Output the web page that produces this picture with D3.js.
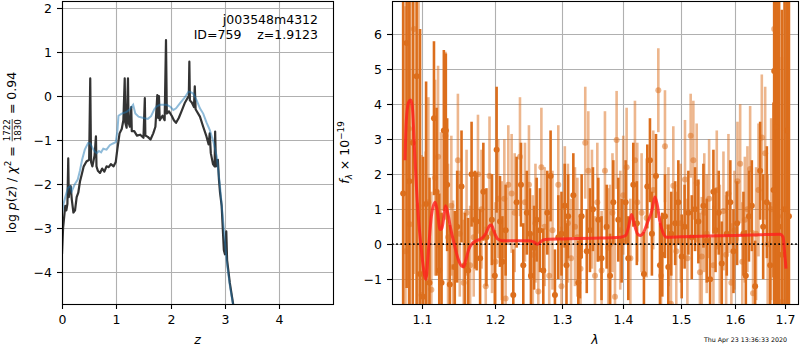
<!DOCTYPE html>
<html>
<head>
<meta charset="utf-8">
<script src="https://cdn.jsdelivr.net/npm/d3@7"></script>
<style>
  body { margin: 0; background: #fff; }
  svg { display: block; font-family: "DejaVu Sans", sans-serif; }
</style>
</head>
<body>
<svg id="chart" width="800" height="350"></svg>
<script>
// ---- data ----

// p(z) curve: [z, log p(z)]
const pzCurve = [
  [0.00,-3.6],[0.02,-3.0],[0.04,-2.75],[0.06,-2.5],[0.08,-2.6],[0.10,-2.45],[0.115,-1.42],[0.125,-2.3],
  [0.14,-2.1],[0.16,-2.05],[0.18,-2.35],[0.21,-2.65],[0.24,-2.6],[0.27,-2.3],[0.30,-2.2],[0.33,-1.95],
  [0.36,-1.8],[0.40,-1.6],[0.45,-1.49],[0.50,-1.45],[0.52,0.4],[0.535,-1.5],[0.56,-1.6],[0.60,-1.35],
  [0.625,-0.92],[0.635,-1.6],[0.66,-1.7],[0.70,-1.75],[0.74,-1.65],[0.78,-1.72],[0.82,-1.6],[0.86,-1.62],
  [0.90,-1.55],[0.95,-1.6],[0.99,-1.5],[1.02,-1.2],[1.06,-0.85],[1.10,-0.75],[1.13,-0.55],[1.155,0.4],
  [1.165,-0.6],[1.19,-0.72],[1.215,0.4],[1.225,-0.6],[1.25,-0.7],[1.275,-0.25],[1.285,-0.8],[1.33,-0.8],
  [1.38,-0.9],[1.44,-0.88],[1.50,-0.95],[1.525,-0.05],[1.535,-0.9],[1.58,-0.93],[1.63,-0.99],[1.68,-0.85],
  [1.72,-0.7],[1.755,0.02],[1.77,-0.5],[1.785,0.0],[1.80,-0.55],[1.85,-0.45],[1.89,-0.55],[1.915,1.27],
  [1.93,-0.4],[1.97,-0.35],[2.02,-0.45],[2.06,-0.55],[2.10,-0.61],[2.15,-0.5],[2.20,-0.35],[2.26,-0.16],
  [2.31,-0.05],[2.335,0.0],[2.345,0.78],[2.355,-0.1],[2.39,-0.15],[2.43,-0.25],[2.445,0.22],[2.46,-0.3],
  [2.54,-0.47],[2.60,-0.7],[2.66,-0.92],[2.70,-1.1],[2.72,-0.85],[2.74,-1.3],[2.78,-1.55],[2.81,-1.6],
  [2.82,-0.81],[2.835,-1.6],[2.87,-1.45],[2.89,-1.9],[2.91,-2.2],[2.94,-2.5],[2.98,-3.5],[3.00,-3.6],
  [3.025,-3.08],[3.04,-3.73],[3.09,-4.25],[3.16,-4.8]
];

// chi2 curve: [z, value]
const chiCurve = [
  [0.00,-2.66],[0.03,-2.45],[0.06,-2.3],[0.11,-2.09],[0.15,-2.05],[0.18,-2.17],[0.23,-2.02],[0.29,-1.9],
  [0.33,-1.7],[0.37,-1.45],[0.42,-1.22],[0.48,-1.07],[0.52,-1.08],[0.56,-1.18],[0.60,-1.26],[0.64,-1.3],
  [0.68,-1.25],[0.72,-1.28],[0.76,-1.2],[0.82,-1.22],[0.88,-1.12],[0.94,-1.08],[0.99,-1.05],[1.02,-0.8],
  [1.04,-0.45],[1.10,-0.4],[1.19,-0.36],[1.25,-0.3],[1.31,-0.2],[1.35,-0.4],[1.41,-0.47],[1.50,-0.5],
  [1.58,-0.52],[1.64,-0.46],[1.70,-0.3],[1.74,-0.24],[1.80,-0.2],[1.93,-0.2],[2.00,-0.25],[2.05,-0.32],
  [2.10,-0.28],[2.17,-0.17],[2.25,-0.05],[2.33,0.1],[2.38,0.08],[2.42,0.05],[2.48,-0.1],[2.54,-0.28],
  [2.60,-0.4],[2.66,-0.6],[2.72,-0.77],[2.79,-1.05],[2.85,-1.38],[2.91,-2.06],[2.97,-2.89],[3.03,-3.73],
  [3.09,-4.3],[3.15,-4.75]
];

// spectrum 1 (solid): [lambda, flux, err]
const specDark = [
  [1.0750,1.45,7],[1.0795,5.75,7],[1.0830,1.80,7],[1.0875,2.90,7],[1.0925,4.80,7],[1.0970,-0.85,7],
  [1.1010,-1.50,4.0],[1.1050,1.15,3.5],[1.1095,-1.10,3.0],[1.1155,3.60,2.2],[1.1190,1.50,2.4],[1.1226,-0.75,2.2],
  [1.1257,-1.10,2.0],[1.1288,3.25,2.3],[1.1315,3.25,2.2],[1.1333,1.70,1.9],[1.1369,-1.15,1.7],[1.1437,-0.65,1.6],
  [1.1470,0.50,1.6],[1.1530,1.65,1.6],[1.1576,-0.60,1.5],[1.1622,-0.75,1.5],[1.1670,2.00,1.5],[1.1717,0.70,1.4],
  [1.1741,0.65,1.4],[1.1790,-0.40,1.4],[1.1836,1.50,1.4],[1.1880,0.20,1.4],[1.1958,0.70,1.3],[1.2000,-0.90,1.3],
  [1.2026,2.70,1.8],[1.2075,0.65,1.3],[1.2110,-0.50,1.3],[1.2157,0.40,1.3],[1.2269,-1.45,1.3],[1.2318,1.20,1.3],
  [1.2383,1.70,1.2],[1.2417,-0.60,1.2],[1.2470,0.90,1.2],[1.2517,0.30,1.3],[1.2532,-0.90,1.2],[1.2580,-0.10,1.2],
  [1.2618,0.70,1.2],[1.2668,0.40,1.2],[1.2719,-0.75,1.2],[1.2780,0.90,1.2],[1.2831,1.95,1.3],[1.2898,-1.45,1.3],
  [1.2950,0.20,1.2],[1.3000,0.30,1.2],[1.3050,1.10,1.2],[1.3078,-0.60,1.2],[1.3104,0.80,1.2],[1.3186,1.40,1.2],
  [1.3265,-1.10,1.2],[1.3291,-0.35,1.2],[1.3318,0.80,1.2],[1.3400,-0.20,1.2],[1.3452,0.40,1.2],[1.3500,1.00,1.2],
  [1.3587,0.70,1.2],[1.3640,-0.40,1.2],[1.3724,0.50,1.2],[1.3780,-0.90,1.2],[1.3834,1.20,1.2],[1.3917,0.70,1.2],
  [1.3973,0.10,1.2],[1.4040,1.20,1.2],[1.4085,-0.40,1.2],[1.4170,1.70,1.2],[1.4230,0.60,1.2],[1.4352,-0.85,1.2],
  [1.4410,1.65,1.2],[1.4456,2.40,1.2],[1.4490,0.30,1.2],[1.4561,1.95,1.2],[1.4631,-0.60,1.2],[1.4672,-0.30,1.2],
  [1.4720,0.80,1.2],[1.4778,-0.65,1.2],[1.4830,0.30,1.2],[1.4900,0.60,1.2],[1.4957,1.20,1.2],[1.5017,-0.35,1.2],
  [1.5070,0.50,1.2],[1.5138,0.90,1.2],[1.5200,0.20,1.2],[1.5260,1.00,1.2],[1.5321,0.65,1.2],[1.5414,1.10,1.2],
  [1.5476,0.10,1.2],[1.5538,-1.00,1.2],[1.5600,1.50,1.2],[1.5640,0.40,1.2],[1.5700,0.90,1.2],[1.5757,-0.55,1.2],
  [1.5852,0.30,1.2],[1.5920,1.20,1.2],[1.5980,-0.20,1.2],[1.6050,0.60,1.2],[1.6173,0.30,1.2],[1.6219,-0.90,1.3],
  [1.6280,0.80,1.3],[1.6336,1.10,1.3],[1.6401,-1.20,1.3],[1.6500,2.10,1.4],[1.6560,0.50,1.5],[1.6633,1.20,1.6],
  [1.6700,-0.60,1.8],[1.6767,1.55,2.5],[1.6781,4.95,7],[1.6821,3.35,7],[1.6835,1.20,7],[1.6880,0.50,7],
  [1.6936,-0.30,7],[1.6990,1.00,7],[1.7039,3.25,7],[1.7080,0.80,7]
];

// spectrum 2 (faint): [lambda, flux, err]
const specLight = [
  [1.0780,-0.20,7],[1.0825,3.30,7],[1.0835,0.57,7],[1.0890,6.15,7],[1.0950,1.10,7],[1.0990,-1.45,4.0],
  [1.1044,-0.85,3.5],[1.1080,1.20,3.0],[1.1120,-1.30,2.8],[1.1170,1.90,2.8],[1.1210,2.50,2.6],[1.1250,0.80,2.4],
  [1.1310,3.10,2.4],[1.1345,0.20,2.1],[1.1390,1.10,2.0],[1.1414,-0.65,1.9],[1.1480,2.40,1.9],[1.1506,0.30,1.8],
  [1.1560,-1.10,1.8],[1.1600,0.90,1.8],[1.1650,-0.60,1.7],[1.1700,0.20,1.7],[1.1760,2.00,1.7],[1.1810,1.00,1.7],
  [1.1870,-1.20,1.7],[1.1924,1.95,1.7],[1.1960,0.30,1.7],[1.2010,-0.50,1.7],[1.2050,1.30,1.7],[1.2100,0.10,1.7],
  [1.2138,1.30,1.7],[1.2157,-1.55,1.7],[1.2196,1.70,1.7],[1.2245,1.45,1.7],[1.2290,0.90,1.7],[1.2368,2.50,1.7],
  [1.2442,1.20,1.7],[1.2502,1.70,1.7],[1.2560,-0.30,1.7],[1.2600,0.60,1.7],[1.2643,-1.35,1.7],[1.2690,2.20,1.7],
  [1.2740,0.50,1.7],[1.2810,-0.90,1.7],[1.2860,0.40,1.7],[1.2950,1.70,1.7],[1.3000,-1.20,1.7],[1.3052,1.10,1.7],
  [1.3100,0.60,1.7],[1.3150,-0.40,1.7],[1.3212,0.50,1.7],[1.3250,0.20,1.7],[1.3300,-0.70,1.7],[1.3376,2.90,1.6],
  [1.3425,2.10,1.7],[1.3484,1.00,1.7],[1.3533,-0.90,1.7],[1.3571,1.20,1.7],[1.3641,-0.75,1.7],[1.3696,2.10,1.7],
  [1.3750,-0.10,1.7],[1.3779,0.00,1.7],[1.3820,0.90,1.7],[1.3862,-1.50,1.7],[1.3889,2.98,1.4],[1.3950,0.40,1.7],
  [1.4000,1.40,1.7],[1.4057,2.20,1.7],[1.4120,-0.40,1.7],[1.4198,2.40,1.7],[1.4238,1.20,1.7],[1.4312,0.90,1.7],
  [1.4398,0.75,1.7],[1.4514,1.55,1.7],[1.4602,4.40,1.2],[1.4650,-0.90,1.7],[1.4719,2.80,1.6],[1.4780,0.50,1.7],
  [1.4825,-1.70,1.7],[1.4867,1.67,1.7],[1.4920,-0.20,1.7],[1.5000,0.60,1.7],[1.5077,1.85,1.7],[1.5120,-0.40,1.7],
  [1.5180,3.10,1.2],[1.5229,2.40,1.7],[1.5290,1.75,1.7],[1.5350,-0.80,1.7],[1.5383,-0.35,1.7],[1.5430,0.90,1.7],
  [1.5476,0.30,1.7],[1.5520,1.30,1.7],[1.5600,-0.60,1.7],[1.5663,1.55,1.7],[1.5720,0.00,1.7],[1.5789,0.95,1.7],
  [1.5840,-0.30,1.7],[1.5884,1.45,1.7],[1.5940,-1.10,1.7],[1.6000,0.40,1.7],[1.6057,1.80,1.7],[1.6109,2.30,1.7],
  [1.6150,-0.50,1.7],[1.6200,0.70,1.8],[1.6250,1.00,1.8],[1.6303,2.15,1.8],[1.6360,-1.40,1.8],[1.6420,0.30,1.9],
  [1.6467,1.55,1.9],[1.6533,3.05,1.8],[1.6600,2.60,1.9],[1.6650,0.00,2.0],[1.6720,1.00,2.6],[1.6781,6.15,7],
  [1.6860,0.80,7],[1.6936,-1.65,7]
];

// best-fit model: [lambda, flux]
const modelCurve = [
  [1.0774,2.4],[1.0790,3.5],[1.0820,4.05],[1.0848,4.12],[1.0870,3.9],[1.0900,2.6],[1.0940,1.0],[1.0980,0.0],
  [1.1010,-0.6],[1.1047,-1.0],[1.1080,-0.2],[1.1120,0.8],[1.1170,1.2],[1.1200,0.95],[1.1236,0.42],[1.1260,0.45],
  [1.1290,0.8],[1.1310,1.1],[1.1340,0.9],[1.1380,0.45],[1.1430,0.0],[1.1480,-0.4],[1.1530,-0.62],[1.1560,-0.65],
  [1.1590,-0.45],[1.1630,-0.15],[1.1680,0.02],[1.1740,0.1],[1.1800,0.15],[1.1870,0.3],[1.1920,0.52],[1.1950,0.55],
  [1.1990,0.35],[1.2040,0.15],[1.2100,0.1],[1.2300,0.1],[1.2500,0.1],[1.2580,0.06],[1.2630,0.0],[1.2680,0.07],
  [1.2720,0.12],[1.2800,0.14],[1.3000,0.15],[1.3500,0.17],[1.3950,0.2],[1.4040,0.25],[1.4090,0.5],[1.4140,0.85],
  [1.4190,0.55],[1.4240,0.3],[1.4290,0.25],[1.4350,0.35],[1.4420,0.65],[1.4480,0.9],[1.4520,1.2],[1.4543,1.35],
  [1.4580,1.15],[1.4630,0.65],[1.4680,0.35],[1.4750,0.2],[1.5000,0.21],[1.5500,0.23],[1.6000,0.25],[1.6500,0.27],
  [1.6900,0.28],[1.6960,0.2],[1.6990,-0.2],[1.7020,-0.7]
];

const zTicks = [0, 1, 2, 3, 4];
const logpTicks = [-4, -3, -2, -1, 0, 1, 2];
const waveTicks = [1.1, 1.2, 1.3, 1.4, 1.5, 1.6, 1.7];
const fluxTicks = [-1, 0, 1, 2, 3, 4, 5, 6];

// ---- layout ----
const FONT = 12.5;
const ORANGE = "#dc6e1c";
const LEFT = { x0: 62, x1: 333, y0: 1, y1: 304 };
const RIGHT = { x0: 392, x1: 798, y0: 1, y1: 304 };

const svg = d3.select("#chart");

const xL = d3.scaleLinear().domain([0, 4.99]).range([LEFT.x0, LEFT.x1]);
const yL = d3.scaleLinear().domain([-4.73, 2.16]).range([LEFT.y1, LEFT.y0]);
const xR = d3.scaleLog().domain([1.0607, 1.7267]).range([RIGHT.x0, RIGHT.x1]);
const yR = d3.scaleLinear().domain([-1.71, 6.95]).range([RIGHT.y1, RIGHT.y0]);

const defs = svg.append("defs");
[["clipL", LEFT], ["clipR", RIGHT]].forEach(([id, b]) => {
  defs.append("clipPath").attr("id", id)
    .append("rect")
    .attr("x", b.x0).attr("y", b.y0)
    .attr("width", b.x1 - b.x0).attr("height", b.y1 - b.y0);
});

const snap = (v) => Math.round(v) + 0.5;

function addGrid(box, x, y, xTicks, yTicks) {
  const g = svg.append("g").attr("stroke", "#b0b0b0").attr("stroke-width", 1.1);
  g.selectAll("line.gx").data(xTicks).join("line").attr("class", "gx")
    .attr("x1", (d) => snap(x(d))).attr("x2", (d) => snap(x(d)))
    .attr("y1", box.y0).attr("y2", box.y1);
  g.selectAll("line.gy").data(yTicks).join("line").attr("class", "gy")
    .attr("x1", box.x0).attr("x2", box.x1)
    .attr("y1", (d) => snap(y(d))).attr("y2", (d) => snap(y(d)));
}

function addAxes(box, x, y, xTicks, yTicks, xFmt, yFmt) {
  const style = (g) => {
    g.attr("font-size", FONT).attr("font-family", null);
    g.select(".domain").remove();
    g.selectAll(".tick line").attr("stroke-width", 1.1);
  };
  svg.append("g")
    .attr("transform", `translate(0,${box.y1})`)
    .call(d3.axisBottom(x).tickValues(xTicks).tickFormat(xFmt)
      .tickSize(5).tickPadding(6).tickSizeOuter(0).offset(0))
    .call(style)
    .selectAll(".tick").attr("transform", (d) => `translate(${snap(x(d))},0)`);
  svg.append("g")
    .attr("transform", `translate(${box.x0},0)`)
    .call(d3.axisLeft(y).tickValues(yTicks).tickFormat(yFmt)
      .tickSize(5).tickPadding(5).tickSizeOuter(0).offset(0))
    .call(style)
    .selectAll(".tick").attr("transform", (d) => `translate(0,${snap(y(d))})`);
  svg.append("rect")
    .attr("x", box.x0 + 0.5).attr("y", box.y0 + 0.5)
    .attr("width", box.x1 - box.x0).attr("height", box.y1 - box.y0)
    .attr("fill", "none").attr("stroke", "#000").attr("stroke-width", 1.1);
}

// rotated label built from pieces (italic, sub/superscript, stacked fraction)
function mathLabel(x, y, parts) {
  const outer = svg.append("g").attr("transform", `translate(${x},${y}) rotate(-90)`);
  const g = outer.append("g").attr("font-size", FONT);
  let cx = 0;
  parts.forEach((p) => {
    if (p.frac) {
      const fs = FONT * 0.7;
      const num = g.append("text").attr("font-size", fs).attr("y", -6).text(p.frac[0]);
      const den = g.append("text").attr("font-size", fs).attr("y", 5).text(p.frac[1]);
      const wn = num.node().getComputedTextLength();
      const wd = den.node().getComputedTextLength();
      const w = Math.max(wn, wd);
      num.attr("x", cx + 1 + (w - wn) / 2);
      den.attr("x", cx + 1 + (w - wd) / 2);
      g.append("line")
        .attr("x1", cx + 1).attr("x2", cx + 1 + w)
        .attr("y1", -3.8).attr("y2", -3.8)
        .attr("stroke", "#000").attr("stroke-width", 0.7);
      cx += w + 2;
    } else {
      const t = g.append("text")
        .attr("x", cx).attr("y", p.dy || 0)
        .attr("font-size", FONT * (p.s || 1))
        .attr("font-style", p.it ? "italic" : null)
        .style("white-space", "pre")
        .text(p.t);
      cx += t.node().getComputedTextLength();
    }
  });
  g.attr("transform", `translate(${-cx / 2},0)`);
}

// ---- left panel: p(z) ----
addGrid(LEFT, xL, yL, zTicks, logpTicks);

const lineL = d3.line().x((d) => xL(d[0])).y((d) => yL(d[1]));
const gL = svg.append("g").attr("clip-path", "url(#clipL)").attr("fill", "none");
gL.append("path").datum(pzCurve).attr("d", lineL)
  .attr("stroke", "#333").attr("stroke-width", 2.2).attr("stroke-linejoin", "round");
gL.append("path").datum(chiCurve).attr("d", lineL)
  .attr("stroke", "#1f77b4").attr("stroke-opacity", 0.5).attr("stroke-width", 2);

addAxes(LEFT, xL, yL, zTicks, logpTicks, d3.format("d"), d3.format("d"));

svg.append("text").attr("x", 318).attr("y", 24).attr("text-anchor", "end")
  .attr("font-size", FONT).text("j003548m4312");
svg.append("text").attr("x", 318).attr("y", 39).attr("text-anchor", "end")
  .attr("font-size", FONT).style("white-space", "pre").text("ID=759    z=1.9123");

svg.append("text").attr("x", (LEFT.x0 + LEFT.x1) / 2).attr("y", 344)
  .attr("text-anchor", "middle").attr("font-size", FONT).attr("font-style", "italic").text("z");

mathLabel(16, (LEFT.y0 + LEFT.y1) / 2, [
  { t: "log " }, { t: "p", it: true }, { t: "(" }, { t: "z", it: true }, { t: ") / " },
  { t: "χ", it: true }, { t: "2", s: 0.7, dy: -5 }, { t: " = " },
  { frac: ["1722", "1830"] }, { t: " = 0.94" }
]);

// ---- right panel: spectrum ----
addGrid(RIGHT, xR, yR, waveTicks, fluxTicks);

const gR = svg.append("g").attr("clip-path", "url(#clipR)");

function drawSpec(rows, opacity) {
  const g = gR.append("g");
  g.selectAll("line").data(rows).join("line")
    .attr("x1", (d) => xR(d[0])).attr("x2", (d) => xR(d[0]))
    .attr("y1", (d) => yR(d[1] - d[2])).attr("y2", (d) => yR(d[1] + d[2]))
    .attr("stroke", ORANGE).attr("stroke-width", 2.6).attr("stroke-opacity", opacity);
  g.selectAll("circle").data(rows).join("circle")
    .attr("cx", (d) => xR(d[0])).attr("cy", (d) => yR(d[1])).attr("r", 3)
    .attr("fill", ORANGE).attr("fill-opacity", opacity);
}
drawSpec(specLight, 0.5);
drawSpec(specDark, 1);

gR.append("line")
  .attr("x1", RIGHT.x0).attr("x2", RIGHT.x1)
  .attr("y1", yR(0)).attr("y2", yR(0))
  .attr("stroke", "#000").attr("stroke-width", 1.6).attr("stroke-dasharray", "1.6,2.6");

gR.append("path").datum(modelCurve)
  .attr("d", d3.line().x((d) => xR(d[0])).y((d) => yR(d[1])).curve(d3.curveMonotoneX))
  .attr("fill", "none").attr("stroke", "#ff1e1e").attr("stroke-opacity", 0.8)
  .attr("stroke-width", 3).attr("stroke-linejoin", "round");

addAxes(RIGHT, xR, yR, waveTicks, fluxTicks, d3.format(".1f"), d3.format("d"));

svg.append("text").attr("x", (RIGHT.x0 + RIGHT.x1) / 2).attr("y", 344)
  .attr("text-anchor", "middle").attr("font-size", FONT).attr("font-style", "italic").text("λ");

mathLabel(349, (RIGHT.y0 + RIGHT.y1) / 2, [
  { t: "f", it: true }, { t: "λ", it: true, s: 0.7, dy: 3 }, { t: " × 10" },
  { t: "−19", s: 0.7, dy: -5 }
]);

svg.append("text").attr("x", 787).attr("y", 342).attr("text-anchor", "end")
  .attr("font-size", 6.3).text("Thu Apr 23 13:36:33 2020");
</script>
</body>
</html>
